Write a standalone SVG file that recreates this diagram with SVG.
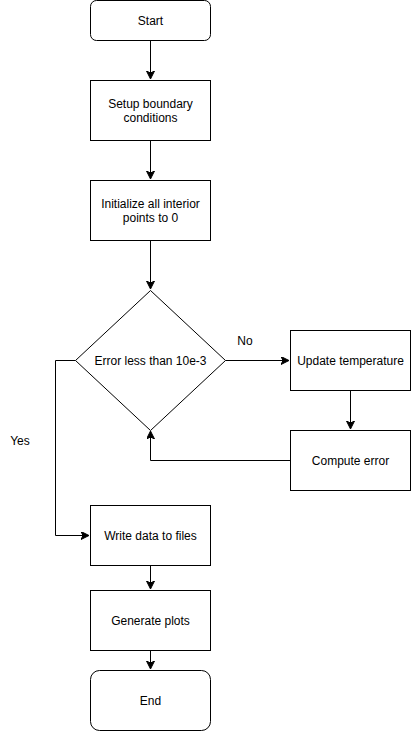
<svg xmlns="http://www.w3.org/2000/svg" width="411" height="731" viewBox="0 0 411 731">
<style>
.n{fill:#fff;stroke:#000;stroke-width:1}
.t{font-family:"Liberation Sans",Arial,sans-serif;font-size:12px;fill:#000;text-anchor:middle}
.e{fill:none;stroke:#000;stroke-width:1}
</style>
<defs>
<marker id="a" markerWidth="10" markerHeight="10" refX="7" refY="4" orient="auto" markerUnits="userSpaceOnUse">
<path d="M0,0 L8,4 L0,8 L2,4 Z" fill="#000" stroke="#000" stroke-width="1"/>
</marker>
</defs>
<rect width="411" height="731" fill="#fff"/>
<g id="connectors">
<path class="e" d="M150.5,40.5 V78" marker-end="url(#a)"/>
<path class="e" d="M150.5,140.5 V178" marker-end="url(#a)"/>
<path class="e" d="M150.5,240.5 V288" marker-end="url(#a)"/>
<path class="e" d="M225.5,360.5 H288" marker-end="url(#a)"/>
<path class="e" d="M350.5,390.5 V428" marker-end="url(#a)"/>
<path class="e" d="M290.5,460.5 H150.5 V432" marker-end="url(#a)"/>
<path class="e" d="M75.5,360.5 H55.5 V535.5 H88" marker-end="url(#a)"/>
<path class="e" d="M150.5,565.5 V588" marker-end="url(#a)"/>
<path class="e" d="M150.5,650.5 V668" marker-end="url(#a)"/>
<text class="t" x="245" y="345">No</text>
<text class="t" x="20" y="445">Yes</text>
</g>
<g id="start"><rect class="n" x="90.5" y="0.5" width="120" height="40" rx="6"/><text class="t" x="150.5" y="25">Start</text></g>
<g id="setup"><rect class="n" x="90.5" y="80.5" width="120" height="60"/><text class="t" x="150.5" y="108">Setup boundary</text><text class="t" x="150.5" y="122">conditions</text></g>
<g id="init"><rect class="n" x="90.5" y="180.5" width="120" height="60"/><text class="t" x="150.5" y="208">Initialize all interior</text><text class="t" x="150.5" y="222">points to 0</text></g>
<g id="decision"><path class="n" d="M150.5,290.5 L225.5,360.5 L150.5,430.5 L75.5,360.5 Z"/><text class="t" x="150.5" y="365">Error less than 10e-3</text></g>
<g id="update"><rect class="n" x="290.5" y="330.5" width="120" height="60"/><text class="t" x="350.5" y="365">Update temperature</text></g>
<g id="compute"><rect class="n" x="290.5" y="430.5" width="120" height="60"/><text class="t" x="350.5" y="465">Compute error</text></g>
<g id="write"><rect class="n" x="90.5" y="505.5" width="120" height="60"/><text class="t" x="150.5" y="540">Write data to files</text></g>
<g id="plots"><rect class="n" x="90.5" y="590.5" width="120" height="60"/><text class="t" x="150.5" y="625">Generate plots</text></g>
<g id="end"><rect class="n" x="90.5" y="670.5" width="120" height="60" rx="9"/><text class="t" x="150.5" y="705">End</text></g>
</svg>
